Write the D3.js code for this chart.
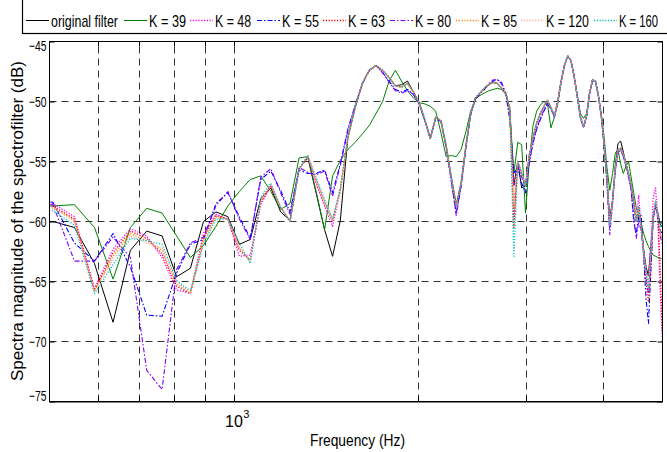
<!DOCTYPE html>
<html><head><meta charset="utf-8">
<script src="https://cdn.jsdelivr.net/npm/d3@7"></script>
<style>
html,body{margin:0;padding:0;background:#fff;}
svg{display:block;}
</style></head><body>
<svg id="chart" width="667" height="452"></svg>
<script>
// ---------- DATA ----------
const freqHz = [463.6, 506.4, 549.2, 592.0, 634.8, 677.6, 720.4, 763.2, 806.0, 848.8, 891.6, 934.4, 977.2, 1020.0, 1062.8, 1105.6, 1148.4, 1191.2, 1234.0, 1276.8, 1319.6, 1362.4, 1405.2, 1448.0, 1490.8, 1533.6, 1576.4, 1619.2, 1662.0, 1704.8, 1747.6, 1790.4, 1833.2, 1876.0, 1918.8, 1961.6, 2004.4, 2047.2, 2090.0, 2132.8, 2175.6, 2218.4, 2261.2, 2304.0, 2346.8, 2389.6, 2432.4, 2475.2, 2518.0, 2560.8, 2603.6, 2646.4, 2689.2, 2732.0, 2774.8, 2817.6, 2860.4, 2903.2, 2946.0, 2988.8, 3031.6, 3074.4, 3117.2, 3160.0, 3202.8, 3245.6, 3288.4, 3331.2, 3374.0, 3416.8, 3459.6, 3502.4, 3545.2, 3588.0, 3630.8, 3673.6, 3716.4, 3759.2, 3802.0, 3844.8, 3887.6, 3930.4, 3973.2, 4016.0, 4058.8, 4101.6, 4144.4, 4187.2, 4230.0, 4272.8, 4315.6, 4358.4, 4401.2, 4444.0, 4486.8, 4529.6, 4572.4, 4615.2, 4658.0, 4700.8, 4743.6, 4786.4, 4829.2, 4872.0, 4914.8, 4957.6, 5000.4];

const originalFilter = [
-60.2,-60.0,-60.5,-63.5,-68.4,-62.4,-60.8,-61.2,-64.6,-63.9,-60.0,
-59.2,-59.6,-61.9,-61.5,-58.1,-57.2,-59.2,-59.9,-55.6,-54.7,
-57.7,-60.7,-62.9,-59.9,-53.0,
-50.5,-48.5,-47.4,-47.0,-47.4,-48.0,-48.7,-48.6,-48.3,-49.2,
-50.1,-51.5,-53.1,-51.3,-51.6,-53.7,-56.3,-58.6,-56.8,-53.7,
-51.0,-49.7,-49.3,-48.9,-48.6,-48.4,-48.5,-48.9,-49.3,-50.6,
-57.0,-55.0,-57.2,-57.0,-54.5,-53.0,-51.8,-51.0,-50.4,-49.9,
-50.5,-51.2,-50.0,-48.3,-47.0,-46.2,-46.6,-47.9,-49.6,-51.3,
-52.1,-51.2,-49.3,-48.2,-48.3,-49.5,-51.2,-53.6,-56.4,-59.8,
-58.2,-55.4,-53.5,-53.3,-54.2,-55.2,-56.0,-57.0,-58.4,-60.0,
-58.8,-60.3,-62.3,-63.8,-64.5,-62.0,-59.5,-58.8,-59.3,-60.2,-60.5];

const k39 = [
-58.7,-58.7,-58.6,-60.5,-64.8,-60.5,-58.9,-59.3,-61.2,-63.0,-62.0,
-60.4,-58.7,-57.5,-56.5,-56.2,-57.5,-59.0,-58.5,-54.7,-54.6,
-57.6,-60.7,-56.2,-54.9,-54.0,
-53.4,-52.7,-52.0,-51.0,-50.0,-48.3,-47.4,-48.3,-49.1,-49.7,
-50.1,-50.2,-50.4,-50.8,-52.6,-54.6,-54.5,-54.6,-54.0,-52.5,
-50.8,-49.8,-49.5,-49.3,-49.1,-49.0,-48.9,-49.0,-49.4,-50.7,
-56.0,-53.4,-53.6,-59.3,-55.0,-52.0,-50.8,-50.3,-50.0,-50.2,
-52.2,-51.3,-50.2,-48.4,-47.0,-46.2,-46.6,-47.9,-49.5,-51.0,
-51.4,-51.0,-49.3,-48.2,-48.4,-49.6,-51.0,-53.0,-55.5,-57.4,
-56.0,-54.3,-54.0,-55.2,-56.0,-55.4,-55.0,-56.3,-57.6,-58.8,
-59.6,-60.2,-61.0,-61.6,-62.1,-62.5,-62.8,-62.9,-63.0,-63.1,-63.1];

const k48 = [
-58.5,-58.5,-59.6,-65.6,-62.3,-60.6,-61.2,-63.0,-65.7,-66.0,-61.0,
-59.4,-59.8,-62.9,-62.8,-58.6,-57.0,-58.8,-60.0,-55.6,-54.6,
-56.9,-58.7,-60.4,-57.4,-53.0,
-50.5,-48.5,-47.4,-47.0,-47.4,-48.0,-48.7,-48.8,-48.5,-49.2,
-50.1,-51.5,-53.1,-51.3,-51.6,-53.7,-56.3,-58.7,-56.8,-53.7,
-51.0,-49.7,-49.3,-48.9,-48.6,-48.4,-48.5,-48.9,-49.3,-50.6,
-59.5,-55.0,-56.0,-57.0,-54.5,-53.0,-51.8,-51.0,-50.4,-49.9,
-50.5,-51.2,-50.0,-48.3,-47.0,-46.2,-46.6,-47.9,-49.6,-51.3,
-52.1,-51.2,-49.3,-48.2,-48.3,-49.5,-51.2,-53.6,-56.4,-60.3,
-58.3,-55.6,-54.0,-53.9,-54.4,-55.2,-56.0,-57.0,-58.0,-60.0,
-57.8,-60.5,-62.5,-64.3,-64.5,-62.0,-58.0,-57.2,-60.0,-66.0,-70.0];

const k55 = [
-58.2,-58.4,-61.8,-63.3,-61.0,-63.8,-67.8,-67.9,-64.3,-61.9,-61.5,
-58.5,-57.6,-59.6,-61.4,-56.5,-55.8,-57.4,-59.2,-55.7,-56.0,
-56.0,-55.7,-57.6,-55.2,-52.3,
-50.3,-48.5,-47.4,-47.0,-47.6,-48.3,-49.0,-49.2,-49.0,-49.4,
-50.2,-51.6,-53.0,-51.4,-51.7,-53.8,-56.6,-59.3,-57.0,-53.8,
-51.1,-49.8,-49.4,-49.0,-48.6,-48.3,-48.2,-48.5,-49.4,-51.5,
-56.0,-55.5,-56.8,-57.6,-55.0,-53.5,-52.3,-51.5,-50.8,-50.2,
-50.6,-51.3,-50.0,-48.3,-47.0,-46.2,-46.6,-47.9,-49.6,-51.3,
-52.1,-51.2,-49.3,-48.2,-48.3,-49.5,-51.2,-53.6,-56.6,-60.5,
-58.3,-55.8,-54.2,-54.0,-54.5,-55.3,-56.2,-57.3,-60.0,-61.0,
-59.6,-59.5,-62.8,-66.5,-68.5,-64.0,-59.8,-58.5,-59.6,-60.8,-61.0];

const k63 = [
-58.7,-58.7,-59.8,-65.7,-62.6,-60.8,-61.4,-62.7,-65.4,-66.0,-61.3,
-59.5,-59.8,-62.4,-63.2,-58.4,-57.0,-58.8,-60.0,-55.6,-54.6,
-56.7,-58.5,-60.0,-57.4,-53.0,
-50.5,-48.5,-47.4,-47.0,-47.4,-48.0,-48.7,-48.8,-48.5,-49.2,
-50.1,-51.5,-53.1,-51.3,-51.6,-53.7,-56.3,-58.7,-56.8,-53.7,
-51.0,-49.7,-49.3,-48.9,-48.6,-48.4,-48.5,-48.9,-49.3,-50.6,
-60.5,-55.0,-56.0,-57.0,-54.5,-53.0,-51.8,-51.0,-50.4,-49.9,
-50.5,-51.2,-50.0,-48.3,-47.0,-46.2,-46.6,-47.9,-49.6,-51.3,
-52.1,-51.2,-49.3,-48.2,-48.3,-49.5,-51.2,-53.6,-56.4,-60.3,
-58.3,-55.6,-54.0,-53.9,-54.4,-55.2,-56.0,-57.0,-58.4,-60.0,
-58.8,-60.5,-62.5,-65.0,-66.7,-64.0,-59.5,-58.3,-59.5,-64.0,-69.5];

const k80 = [
-58.5,-58.6,-63.3,-63.3,-61.3,-63.0,-72.4,-74.0,-64.0,-61.8,-61.3,
-58.7,-57.5,-59.8,-61.5,-56.3,-55.6,-57.6,-59.4,-55.5,-55.9,
-56.1,-55.8,-57.9,-55.3,-52.4,
-50.4,-48.5,-47.4,-47.0,-47.6,-48.4,-49.1,-49.3,-49.1,-49.4,
-50.2,-51.6,-53.1,-51.4,-51.7,-53.8,-56.6,-59.5,-57.1,-53.8,
-51.1,-49.8,-49.3,-48.9,-48.5,-48.2,-48.2,-48.4,-49.3,-51.2,
-57.0,-55.3,-56.3,-57.0,-55.2,-53.4,-52.2,-51.4,-50.7,-50.1,
-50.6,-51.3,-50.0,-48.3,-47.0,-46.2,-46.6,-47.9,-49.6,-51.4,
-52.2,-51.3,-49.4,-48.3,-48.4,-49.6,-51.3,-53.8,-57.0,-61.1,
-58.6,-55.8,-54.2,-54.1,-54.6,-55.4,-56.3,-57.4,-59.5,-61.4,
-60.0,-60.8,-62.6,-64.8,-66.0,-63.0,-59.8,-58.6,-59.8,-61.2,-62.0];

const k85 = [
-58.8,-58.8,-59.9,-65.8,-62.9,-61.0,-61.6,-62.4,-65.2,-66.0,-61.5,
-59.6,-59.8,-62.2,-63.3,-58.3,-57.0,-58.8,-60.0,-55.6,-54.6,
-56.6,-58.4,-59.9,-57.3,-53.0,
-50.5,-48.5,-47.4,-47.0,-47.4,-48.0,-48.7,-48.8,-48.5,-49.2,
-50.1,-51.5,-53.1,-51.3,-51.6,-53.7,-56.3,-58.7,-56.8,-53.7,
-51.0,-49.7,-49.3,-48.9,-48.6,-48.4,-48.5,-48.9,-49.3,-50.6,
-59.0,-55.0,-56.0,-57.0,-54.5,-53.0,-51.8,-51.0,-50.4,-49.9,
-50.5,-51.2,-50.0,-48.3,-47.0,-46.2,-46.6,-47.9,-49.6,-51.3,
-52.1,-51.2,-49.3,-48.2,-48.3,-49.5,-51.2,-53.6,-56.4,-60.3,
-58.3,-55.6,-54.0,-53.9,-54.4,-55.2,-56.0,-57.0,-58.4,-60.0,
-58.8,-60.5,-62.5,-64.3,-65.5,-62.5,-59.5,-58.3,-59.5,-61.0,-61.5];

const k120 = [
-58.9,-58.9,-60.0,-65.8,-63.2,-61.2,-61.8,-62.2,-65.0,-66.0,-61.7,
-59.7,-59.8,-62.1,-63.3,-58.2,-56.9,-58.8,-60.0,-55.6,-54.6,
-56.5,-58.3,-60.0,-57.3,-53.0,
-50.5,-48.5,-47.4,-47.0,-47.4,-48.0,-48.7,-48.8,-48.5,-49.2,
-50.1,-51.5,-53.1,-51.3,-51.6,-53.7,-56.3,-58.7,-56.8,-53.7,
-51.0,-49.7,-49.3,-48.9,-48.6,-48.4,-48.5,-48.9,-49.3,-50.6,
-58.5,-55.0,-56.0,-57.0,-54.5,-53.0,-51.8,-51.0,-50.4,-49.9,
-50.5,-51.2,-50.0,-48.3,-47.0,-46.2,-46.6,-47.9,-49.6,-51.3,
-52.1,-51.2,-49.3,-48.2,-48.3,-49.5,-51.2,-53.6,-56.4,-60.3,
-58.3,-55.6,-54.0,-53.9,-54.4,-55.2,-56.0,-57.0,-58.4,-60.0,
-58.8,-60.5,-62.5,-64.3,-65.5,-62.5,-59.5,-58.3,-59.5,-61.0,-61.5];

const k160 = [
-59.1,-59.1,-60.3,-66.0,-63.6,-61.4,-61.6,-61.9,-64.9,-65.8,-61.9,
-59.8,-59.8,-61.8,-63.5,-58.0,-56.8,-58.8,-60.0,-55.6,-54.5,
-56.4,-58.2,-59.8,-57.2,-53.0,
-50.5,-48.5,-47.4,-47.0,-47.4,-48.0,-48.7,-48.8,-48.5,-49.2,
-50.1,-51.5,-53.1,-51.3,-51.6,-53.7,-56.3,-58.7,-56.8,-53.7,
-51.0,-49.7,-49.3,-48.9,-48.6,-48.4,-48.5,-48.9,-49.3,-50.6,
-62.9,-55.0,-56.0,-57.0,-54.5,-53.0,-51.8,-51.0,-50.4,-49.9,
-50.5,-51.2,-50.0,-48.3,-47.0,-46.2,-46.6,-47.9,-49.6,-51.3,
-52.1,-51.2,-49.3,-48.2,-48.3,-49.5,-51.2,-53.6,-56.4,-60.3,
-58.3,-55.6,-54.0,-53.9,-54.4,-55.2,-56.0,-57.0,-58.4,-60.0,
-58.8,-60.5,-62.5,-64.3,-65.5,-62.5,-59.5,-58.3,-59.5,-60.5,-60.0];

const seriesLabels = ["original filter", "K = 39", "K = 48", "K = 55", "K = 63", "K = 80", "K = 85", "K = 120", "K = 160"];
const seriesValues = [originalFilter, k39, k48, k55, k63, k80, k85, k120, k160];

const yTickValues = [-75, -70, -65, -60, -55, -50, -45];
const yGridValues = [-70, -65, -60, -55, -50];
const xGridValues = [600, 700, 800, 900, 1000, 2000, 3000, 4000];
const xLabelBase = "10";
const xLabelExp = "3";
const xLabelValue = 1000;
const xTitle = "Frequency (Hz)";
const yTitle = "Spectra magnitude of the spectrofilter (dB)";

// ---------- STYLES / LAYOUT ----------
const seriesColors = ["#000000", "#008000", "#ff00ff", "#0000ff", "#ff0000", "#7f00ff", "#ff8000", "#ffa8a8", "#00bfbf"];
const seriesDash = [null, null, "1.2,1.6", "5,2,1.5,2", "1.2,1.6", "5,2,1.5,2", "1.2,1.6", "1.2,1.6", "1.2,1.6"];
const seriesWidth = [1, 1, 1.3, 1.1, 1.3, 1.1, 1.3, 1.3, 1.3];
const legendLineX = [26, 124, 190, 257, 323, 390, 456, 521, 594];
const legendTextLen = [67, 37, 36, 37, 37, 36, 36, 43, 39];

const FONT = "'Liberation Sans Narrow','Arial Narrow','Liberation Sans',Arial,sans-serif";
const plot = {left: 49.5, right: 662.5, top: 41.5, bottom: 401.5};

const svg = d3.select("#chart");
svg.append("rect").attr("width", 667).attr("height", 452).attr("fill", "#fff");

const x = d3.scaleLog().domain([500, 5000]).range([plot.left, plot.right]);
const y = d3.scaleLinear().domain([-75, -45]).range([plot.bottom, plot.top]);
const px = v => Math.floor(x(v)) + 0.5;

// grid
const grid = svg.append("g").attr("stroke", "#333").attr("stroke-width", 1).attr("stroke-dasharray", "7,5");
grid.selectAll("line.h").data(yGridValues).join("line")
  .attr("x1", plot.left).attr("x2", plot.right)
  .attr("y1", d => y(d)).attr("y2", d => y(d));
grid.selectAll("line.v").data(xGridValues).join("line")
  .attr("x1", px).attr("x2", px)
  .attr("y1", plot.bottom).attr("y2", plot.top);

// data lines
svg.append("clipPath").attr("id", "clip").append("rect")
  .attr("x", plot.left).attr("y", plot.top)
  .attr("width", plot.right - plot.left).attr("height", plot.bottom - plot.top);
const line = d3.line().x((d, i) => x(freqHz[i])).y(d => y(d));
const lines = svg.append("g").attr("clip-path", "url(#clip)");
seriesValues.forEach((vals, s) => {
  lines.append("path").datum(vals)
    .attr("d", line)
    .attr("fill", "none")
    .attr("stroke", seriesColors[s])
    .attr("stroke-width", seriesWidth[s])
    .attr("stroke-dasharray", seriesDash[s])
    .attr("stroke-linejoin", "round");
});

// axes (ticks inside)
const axL = svg.append("g").attr("transform", `translate(${plot.left},0)`)
  .call(d3.axisLeft(y).tickValues(yTickValues).tickSize(-5).tickPadding(3).tickFormat(d3.format("d")));
const axR = svg.append("g").attr("transform", `translate(${plot.right},0)`)
  .call(d3.axisRight(y).tickValues(yTickValues).tickSize(-5).tickFormat(""));
const axB = svg.append("g").attr("transform", `translate(0,${plot.bottom})`)
  .call(d3.axisBottom(x).tickValues(xGridValues).tickSize(-5).tickFormat(""));
const axT = svg.append("g").attr("transform", `translate(0,${plot.top})`)
  .call(d3.axisTop(x).tickValues(xGridValues).tickSize(-5).tickFormat(""));
[axL, axR, axB, axT].forEach(a => { a.select(".domain").remove(); a.selectAll(".tick line").attr("stroke", "#000"); });
axB.selectAll(".tick").attr("transform", d => `translate(${px(d)},0)`);
axT.selectAll(".tick").attr("transform", d => `translate(${px(d)},0)`);
axL.selectAll(".tick text")
  .attr("font-family", FONT).attr("font-size", 15).attr("fill", "#000")
  .attr("textLength", 17.5).attr("lengthAdjust", "spacingAndGlyphs")
  .attr("dy", d => d === -45 ? "0.6em" : (d === -75 ? "-0.05em" : "0.35em"));

// plot box
svg.append("rect").attr("x", plot.left).attr("y", plot.top)
  .attr("width", plot.right - plot.left).attr("height", plot.bottom - plot.top)
  .attr("fill", "none").attr("stroke", "#000").attr("stroke-width", 1);
svg.append("line").attr("x1", plot.left).attr("x2", plot.right)
  .attr("y1", plot.bottom + 0.5).attr("y2", plot.bottom + 0.5).attr("stroke", "#000").attr("stroke-width", 1);

// 10^3 label
const lbl = svg.append("text").attr("x", x(xLabelValue) - 9).attr("y", 427)
  .attr("font-family", FONT).attr("font-size", 16).attr("fill", "#000");
lbl.append("tspan").text(xLabelBase);
lbl.append("tspan").attr("font-size", 11).attr("dy", -9).attr("dx", 0.5).text(xLabelExp);

// axis titles
svg.append("text").attr("x", 357.5).attr("y", 446).attr("text-anchor", "middle")
  .attr("font-family", FONT).attr("font-size", 17).attr("fill", "#000")
  .attr("textLength", 95).attr("lengthAdjust", "spacingAndGlyphs").text(xTitle);
svg.append("text").attr("transform", "translate(22.5,221) rotate(-90)").attr("text-anchor", "middle")
  .attr("font-family", FONT).attr("font-size", 17).attr("fill", "#000")
  .attr("textLength", 320).attr("lengthAdjust", "spacingAndGlyphs").text(yTitle);

// legend
const leg = svg.append("g");
leg.append("rect").attr("x", 22.5).attr("y", -10).attr("width", 700).attr("height", 43.5)
  .attr("fill", "#fff").attr("stroke", "#000").attr("stroke-width", 1.2);
seriesLabels.forEach((lab, s) => {
  const lx = legendLineX[s];
  leg.append("line").attr("x1", lx).attr("x2", lx + 23).attr("y1", 20.5).attr("y2", 20.5)
    .attr("stroke", seriesColors[s]).attr("stroke-width", seriesWidth[s])
    .attr("stroke-dasharray", seriesDash[s]);
  leg.append("text").attr("x", lx + 25 + legendTextLen[s]).attr("y", 26.5)
    .attr("text-anchor", "end")
    .attr("font-family", FONT).attr("font-size", 17).attr("fill", "#000")
    .attr("textLength", legendTextLen[s]).attr("lengthAdjust", "spacingAndGlyphs").text(lab);
});
</script>
</body></html>
